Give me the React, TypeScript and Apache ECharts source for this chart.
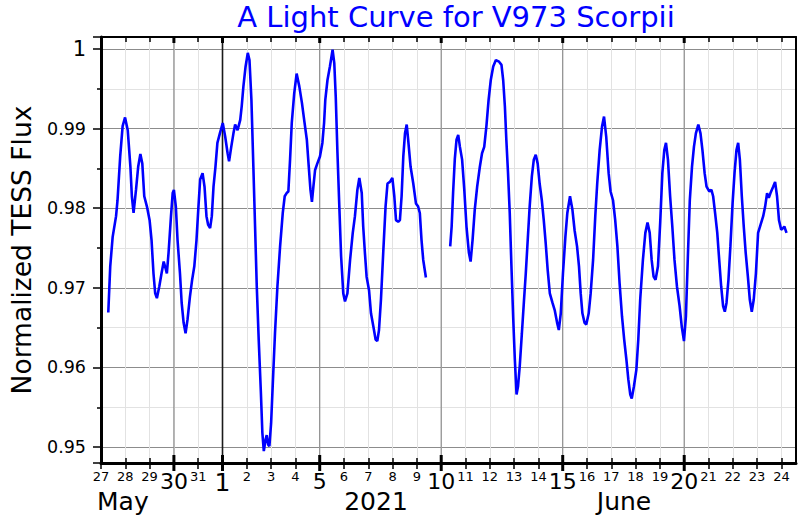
import React, { useEffect, useRef } from 'react';
import * as echarts from 'echarts';

// Days counted from 2021-05-27 00:00 (0 = May 27)
const seg1Days = [
  0.30, 0.38, 0.48, 0.62, 0.68, 0.79, 0.89, 0.99, 1.10, 1.21, 1.27, 1.34, 1.44, 1.53, 1.62, 1.70, 1.78, 1.89,
  2.00, 2.08, 2.16, 2.23, 2.30, 2.40, 2.49, 2.58, 2.67, 2.71, 2.78, 2.88, 2.95, 3.00, 3.08, 3.15, 3.25, 3.32,
  3.40, 3.48, 3.56, 3.66, 3.75, 3.84, 3.93, 4.01, 4.08, 4.18, 4.26, 4.34, 4.41, 4.49, 4.56, 4.63, 4.71, 4.79,
  4.90, 5.01, 5.11, 5.21, 5.27, 5.36, 5.45, 5.52, 5.62, 5.73, 5.79, 5.86, 5.95, 6.04, 6.11, 6.19, 6.27, 6.34,
  6.41, 6.49, 6.58, 6.64, 6.70, 6.77, 6.82, 6.88, 6.93, 7.00, 7.07, 7.16, 7.26, 7.37, 7.48, 7.56, 7.64, 7.71,
  7.78, 7.85, 7.95, 8.05, 8.16, 8.27, 8.36, 8.47, 8.55, 8.62, 8.68, 8.74, 8.81, 8.90, 9.01, 9.11, 9.18, 9.23,
  9.32, 9.42, 9.53, 9.60, 9.66, 9.73, 9.80, 9.88, 9.97, 10.04, 10.14, 10.25, 10.36, 10.45, 10.55, 10.63, 10.73,
  10.79, 10.86, 10.93, 11.03, 11.11, 11.21, 11.30, 11.37, 11.44, 11.52, 11.62, 11.71, 11.79, 11.89, 11.99,
  12.07, 12.14, 12.23, 12.30, 12.37, 12.44, 12.51, 12.58, 12.64, 12.74, 12.85, 12.96, 13.05, 13.12, 13.19,
  13.26, 13.37,
];
const seg1Flux = [
  0.9669, 0.9727, 0.9764, 0.9790, 0.9810, 0.9865, 0.9903, 0.9914, 0.9898, 0.9852, 0.9815, 0.9794, 0.9823, 0.9852, 0.9868, 0.9856, 0.9815, 0.9802,
  0.9785, 0.9760, 0.9718, 0.9693, 0.9687, 0.9702, 0.9718, 0.9733, 0.9723, 0.9718, 0.9744, 0.9790, 0.9819, 0.9823, 0.9802, 0.9760, 0.9718, 0.9681,
  0.9656, 0.9643, 0.9660, 0.9689, 0.9710, 0.9727, 0.9760, 0.9802, 0.9836, 0.9844, 0.9827, 0.9790, 0.9779, 0.9775, 0.9790, 0.9827, 0.9852, 0.9882,
  0.9895, 0.9907, 0.9890, 0.9869, 0.9859, 0.9877, 0.9894, 0.9905, 0.9898, 0.9911, 0.9928, 0.9953, 0.9978, 0.9995, 0.9986, 0.9936, 0.9852, 0.9777,
  0.9702, 0.9635, 0.9568, 0.9518, 0.9495, 0.9509, 0.9515, 0.9503, 0.9501, 0.9530, 0.9580, 0.9643, 0.9702, 0.9752, 0.9794, 0.9815, 0.9819, 0.9821,
  0.9861, 0.9907, 0.9944, 0.9969, 0.9953, 0.9932, 0.9911, 0.9886, 0.9852, 0.9823, 0.9808, 0.9827, 0.9848, 0.9856, 0.9865, 0.9882, 0.9907, 0.9936,
  0.9961, 0.9978, 0.9999, 0.9982, 0.9940, 0.9870, 0.9808, 0.9740, 0.9693, 0.9683, 0.9693, 0.9735, 0.9769, 0.9790, 0.9823, 0.9838, 0.9819,
  0.9777, 0.9744, 0.9714, 0.9697, 0.9668, 0.9651, 0.9635, 0.9633, 0.9647, 0.9685, 0.9748, 0.9802, 0.9831, 0.9833, 0.9838,
  0.9815, 0.9785, 0.9783, 0.9785, 0.9815, 0.9865, 0.9894, 0.9905, 0.9886, 0.9852, 0.9831, 0.9806, 0.9802, 0.9794, 0.9760,
  0.9735, 0.9713,
];
const seg2Days = [
  14.37, 14.43, 14.49, 14.56, 14.63, 14.70, 14.77, 14.86, 14.95, 15.04, 15.14, 15.21, 15.29, 15.38, 15.48, 15.59,
  15.68, 15.77, 15.86, 15.95, 16.04, 16.14, 16.25, 16.38, 16.48, 16.55, 16.62, 16.68, 16.75, 16.82, 16.89, 16.96,
  17.03, 17.10, 17.16, 17.23, 17.32, 17.40, 17.48, 17.56, 17.64, 17.73, 17.81, 17.89, 17.97, 18.05, 18.14, 18.22,
  18.30, 18.38, 18.47, 18.58, 18.67, 18.77, 18.84, 18.92, 19.01, 19.11, 19.19, 19.30, 19.40, 19.49, 19.59, 19.67,
  19.74, 19.81, 19.90, 19.97, 20.07, 20.15, 20.25, 20.34, 20.42, 20.52, 20.62, 20.70, 20.79, 20.89, 20.97, 21.07,
  21.16, 21.25, 21.34, 21.44, 21.53, 21.62, 21.70, 21.78, 21.84, 21.93, 22.03, 22.11, 22.19, 22.30, 22.40, 22.49,
  22.58, 22.66, 22.74, 22.82, 22.92, 23.01, 23.10, 23.18, 23.25, 23.33, 23.42, 23.51, 23.60, 23.70, 23.81, 23.90,
  23.99, 24.07, 24.15, 24.23, 24.32, 24.40, 24.48, 24.58, 24.67, 24.75, 24.84, 24.92, 25.03, 25.12, 25.19, 25.27,
  25.36, 25.44, 25.52, 25.60, 25.67, 25.74, 25.82, 25.90, 25.99, 26.07, 26.15, 26.22, 26.29, 26.37, 26.45, 26.53,
  26.62, 26.70, 26.78, 26.86, 26.95, 27.04, 27.14, 27.25, 27.33, 27.41, 27.48, 27.55, 27.66, 27.74, 27.82, 27.90,
  27.99, 28.07, 28.12, 28.21,
];
const seg2Flux = [
  0.9752, 0.9777, 0.9820, 0.9862, 0.9886, 0.9892, 0.9877, 0.9861, 0.9823, 0.9777, 0.9744, 0.9733, 0.9760, 0.9798, 0.9827, 0.9852,
  0.9869, 0.9877, 0.9903, 0.9936, 0.9961, 0.9978, 0.9986, 0.9984, 0.9980, 0.9961, 0.9928, 0.9886, 0.9844, 0.9794, 0.9727, 0.9664,
  0.9610, 0.9566, 0.9576, 0.9601, 0.9643, 0.9681, 0.9718, 0.9760, 0.9802, 0.9840, 0.9861, 0.9867, 0.9856, 0.9831, 0.9810, 0.9785,
  0.9756, 0.9723, 0.9693, 0.9681, 0.9672, 0.9656, 0.9647, 0.9668, 0.9718, 0.9764, 0.9794, 0.9815, 0.9798, 0.9772, 0.9752, 0.9727,
  0.9693, 0.9668, 0.9656, 0.9654, 0.9668, 0.9693, 0.9735, 0.9790, 0.9831, 0.9873, 0.9903, 0.9915, 0.9890, 0.9844, 0.9821, 0.9810,
  0.9785, 0.9752, 0.9706, 0.9664, 0.9635, 0.9610, 0.9585, 0.9566, 0.9561, 0.9576, 0.9597, 0.9635, 0.9686, 0.9735, 0.9769, 0.9782,
  0.9769, 0.9735, 0.9714, 0.9710, 0.9727, 0.9781, 0.9844, 0.9873, 0.9882, 0.9861, 0.9815, 0.9777, 0.9735, 0.9702, 0.9677, 0.9651,
  0.9633, 0.9664, 0.9739, 0.9810, 0.9852, 0.9877, 0.9894, 0.9905, 0.9894, 0.9873, 0.9844, 0.9827, 0.9821, 0.9823, 0.9815, 0.9794,
  0.9769, 0.9735, 0.9702, 0.9677, 0.9670, 0.9681, 0.9710, 0.9752, 0.9806, 0.9844, 0.9873, 0.9882, 0.9861, 0.9815, 0.9777, 0.9744,
  0.9714, 0.9685, 0.9670, 0.9685, 0.9718, 0.9769, 0.9779, 0.9790, 0.9802, 0.9819, 0.9813, 0.9819, 0.9827, 0.9833, 0.9815, 0.9785,
  0.9773, 0.9775, 0.9777, 0.9769,
];

const mayDayLabels = [27, 28, 29, 30, 31];
const majorDays = [3, 5, 9, 14, 19, 24]; // May 30, Jun 1, Jun 5, 10, 15, 20
const monthStartDay = 5; // Jun 1
const monthLabels = ['May', '2021', 'June'];
const titleText = 'A Light Curve for V973 Scorpii';
const yTitle = 'Normalized TESS Flux';

const X_MIN = 0;
const X_MAX = 28.6;
const Y_MIN = 0.948;
const Y_MAX = 1.0015;

function dayLabel(d: number): string {
  return d < mayDayLabels.length ? String(mayDayLabels[d]) : String(d - monthStartDay + 1);
}

export default function App() {
  const ref = useRef<HTMLDivElement>(null);
  useEffect(() => {
    if (!ref.current) return;
    const chart = echarts.init(ref.current, null, { renderer: 'svg' });
    const zip = (xs: number[], ys: number[]) => xs.map((x, i) => [x, ys[i]]);
    const xBase = {
      type: 'value' as const,
      min: X_MIN,
      max: X_MAX,
      interval: 1,
    };
    chart.setOption({
      animation: false,
      textStyle: { fontFamily: 'DejaVu Sans' },
      grid: { left: 98, top: 37, width: 698, height: 426, show: false },
      graphic: [
        { type: 'text', x: 456, y: 17, style: { text: titleText, fill: '#0000ff', font: '29px "DejaVu Sans"', textAlign: 'center', textVerticalAlign: 'middle' } },
        { type: 'text', x: 97, y: 501, style: { text: monthLabels[0], fill: '#000', font: '25px "DejaVu Sans"', textAlign: 'left', textVerticalAlign: 'middle' } },
        { type: 'text', x: 376, y: 501, style: { text: monthLabels[1], fill: '#000', font: '25px "DejaVu Sans"', textAlign: 'center', textVerticalAlign: 'middle' } },
        { type: 'text', x: 624, y: 501, style: { text: monthLabels[2], fill: '#000', font: '25px "DejaVu Sans"', textAlign: 'center', textVerticalAlign: 'middle' } },
      ],
      xAxis: [
        {
          ...xBase,
          position: 'bottom',
          axisLine: { show: true, onZero: false, lineStyle: { color: '#000', width: 3 } },
          axisTick: { show: true, inside: false, length: 6, lineStyle: { color: '#000', width: 1.5 } },
          axisLabel: {
            show: true,
            margin: 7,
            color: '#000',
            showMaxLabel: false,
            formatter: (v: number) => {
              const d = Math.round(v);
              if (Math.abs(v - d) > 1e-6 || d > 28) return '';
              const t = dayLabel(d);
              if (d === monthStartDay) return `{m|${t}}`;
              if (majorDays.includes(d)) return `{b|${t}}`;
              return `{s|${t}}`;
            },
            rich: {
              s: { fontSize: 13, color: '#000', fontFamily: 'DejaVu Sans' },
              b: { fontSize: 22, color: '#000', fontFamily: 'DejaVu Sans' },
              m: { fontSize: 25, color: '#000', fontFamily: 'DejaVu Sans' },
            },
          },
          splitLine: { show: true, lineStyle: { color: '#e2e2e2', width: 1 } },
        },
        {
          ...xBase,
          position: 'bottom',
          axisLine: { show: false, onZero: false },
          axisTick: { show: true, inside: true, length: 5, lineStyle: { color: '#000', width: 1.5 } },
          axisLabel: { show: false },
          splitLine: { show: false },
        },
        {
          ...xBase,
          position: 'top',
          axisLine: { show: true, onZero: false, lineStyle: { color: '#000', width: 2 } },
          axisTick: { show: true, inside: true, length: 5, lineStyle: { color: '#000', width: 1.5 } },
          axisLabel: { show: false },
          splitLine: { show: false },
        },
      ],
      yAxis: [
        {
          type: 'value',
          min: Y_MIN,
          max: Y_MAX,
          minInterval: 0.01,
          maxInterval: 0.01,
          position: 'left',
          name: yTitle,
          nameLocation: 'middle',
          nameGap: 66,
          nameRotate: 90,
          nameTextStyle: { fontSize: 26.5, color: '#000', fontFamily: 'DejaVu Sans' },
          axisLine: { show: true, onZero: false, lineStyle: { color: '#000', width: 3 } },
          axisTick: { show: true, inside: false, length: 8, lineStyle: { color: '#000', width: 1.5 } },
          minorTick: { show: true, splitNumber: 2, length: 4, lineStyle: { color: '#000', width: 1.5 } },
          axisLabel: {
            margin: 15,
            color: '#000',
            fontSize: 17.5,
            formatter: (v: number) => {
              const r = Math.round(v * 100) / 100;
              if (Math.abs(v - r) > 1e-7) return '';
              return r === 1 ? '{o|1}' : r.toFixed(2);
            },
            rich: { o: { fontSize: 21, color: '#000', fontFamily: 'DejaVu Sans' } },
          },
          splitLine: { show: true, lineStyle: { color: '#8c8c8c', width: 1.2 } },
          minorSplitLine: { show: true, lineStyle: { color: '#e2e2e2', width: 1 } },
        },
        {
          type: 'value',
          min: Y_MIN,
          max: Y_MAX,
          position: 'right',
          axisLine: { show: true, onZero: false, lineStyle: { color: '#000', width: 2 } },
          axisTick: { show: false },
          axisLabel: { show: false },
          splitLine: { show: false },
        },
      ],
      series: [
        {
          type: 'custom',
          z: 1,
          clip: false,
          silent: true,
          xAxisIndex: 0,
          yAxisIndex: 0,
          data: majorDays.map((d) => [d, Y_MIN]),
          renderItem: (params: any, api: any) => {
            const d = api.value(0);
            const top = api.coord([d, Y_MAX]);
            const bot = api.coord([d, Y_MIN]);
            const isMonth = d === monthStartDay;
            return {
              type: 'group',
              children: [
                {
                  type: 'line',
                  shape: { x1: top[0], y1: top[1], x2: bot[0], y2: bot[1] },
                  style: { stroke: isMonth ? '#1a1a1a' : '#8c8c8c', lineWidth: isMonth ? 1.6 : 1.2 },
                },
                {
                  type: 'line',
                  shape: { x1: bot[0], y1: bot[1] - 8, x2: bot[0], y2: bot[1] + 8 },
                  style: { stroke: '#000', lineWidth: 3 },
                },
                {
                  type: 'line',
                  shape: { x1: top[0], y1: top[1], x2: top[0], y2: top[1] + 6 },
                  style: { stroke: '#000', lineWidth: 3 },
                },
              ],
            };
          },
        },
        {
          type: 'line',
          z: 3,
          xAxisIndex: 0,
          yAxisIndex: 0,
          data: zip(seg1Days, seg1Flux),
          showSymbol: false,
          symbol: 'none',
          lineStyle: { color: '#0000ff', width: 2.6 },
          silent: true,
        },
        {
          type: 'line',
          z: 3,
          xAxisIndex: 0,
          yAxisIndex: 0,
          data: zip(seg2Days, seg2Flux),
          showSymbol: false,
          symbol: 'none',
          lineStyle: { color: '#0000ff', width: 2.6 },
          silent: true,
        },
      ],
    });
    return () => chart.dispose();
  }, []);
  return <div ref={ref} style={{ width: 800, height: 520, position: 'absolute', left: 0, top: 0 }} />;
}
